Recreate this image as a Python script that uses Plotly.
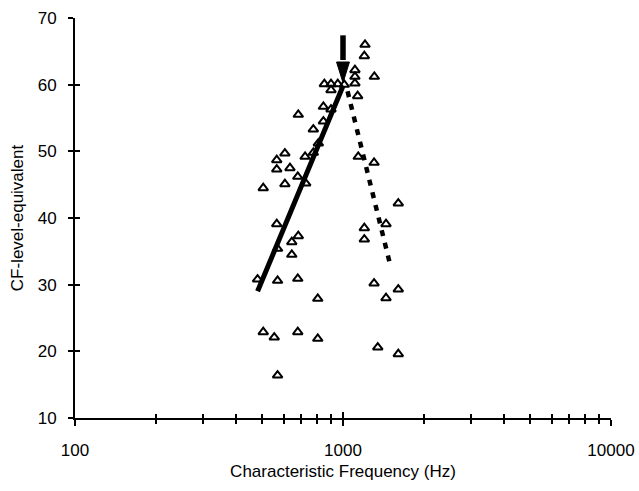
import plotly.graph_objects as go

# Characteristic frequency (Hz) and CF-level-equivalent of each unit
UNIT_CF = [
    480, 570, 678, 805, 504, 554, 678, 805, 570, 570,
    644, 644, 681, 566, 504, 607, 726, 678, 566, 634,
    566, 607, 722, 775, 809, 775, 845, 681, 845, 902,
    852, 902, 902, 956, 1011,
    1208, 1201, 1108, 1108, 1108, 1134, 1309, 1140, 1306, 1608,
    1201, 1201, 1447, 1306, 1608, 1447, 1348, 1608,
]
UNIT_LEVEL = [
    30.8, 30.6, 30.9, 27.9, 22.9, 22.1, 22.9, 21.9, 16.4, 35.4,
    34.5, 36.4, 37.3, 39.1, 44.5, 45.1, 45.2, 46.2, 47.3, 47.5,
    48.7, 49.7, 49.2, 49.8, 51.2, 53.3, 54.5, 55.5, 56.7, 56.3,
    60.1, 59.2, 60.1, 60.1, 60.0,
    66.0, 64.3, 62.2, 61.2, 60.2, 58.3, 61.2, 49.2, 48.3, 42.2,
    38.5, 36.8, 39.1, 30.2, 29.3, 28.0, 20.6, 19.6,
]

# Regression lines below and above the 1000-Hz peak
RISE_FIT_CF = [480, 1000]
RISE_FIT_LEVEL = [29.0, 59.8]
FALL_FIT_CF = [1040, 1510]
FALL_FIT_LEVEL = [59.0, 32.5]

# Arrow marking the best frequency
ARROW_CF = 1000
ARROW_TOP = 67.4
ARROW_HEAD_BASE = 63.4
ARROW_TIP = 60.3
ARROW_HEAD_HALF = 1.057  # multiplicative half-width of the head on the log axis

X_MAJOR = [100, 1000, 10000]
X_MINOR = [200, 300, 400, 500, 600, 700, 800, 900,
           2000, 3000, 4000, 5000, 6000, 7000, 8000, 9000]
Y_MAJOR = [10, 20, 30, 40, 50, 60, 70]

FONT = "Liberation Sans, Arial, sans-serif"

fig = go.Figure()

fig.add_trace(go.Scatter(
    x=RISE_FIT_CF, y=RISE_FIT_LEVEL, mode="lines",
    line=dict(color="black", width=5), hoverinfo="skip",
))
fig.add_trace(go.Scatter(
    x=FALL_FIT_CF, y=FALL_FIT_LEVEL, mode="lines",
    line=dict(color="black", width=4.5, dash="6px,7px"), hoverinfo="skip",
))
fig.add_trace(go.Scatter(
    x=UNIT_CF, y=UNIT_LEVEL, mode="markers",
    marker=dict(symbol="triangle-up-open", size=8.5, color="black",
                line=dict(width=2, color="black")),
))

# arrow shaft and head
fig.add_trace(go.Scatter(
    x=[ARROW_CF, ARROW_CF], y=[ARROW_TOP, ARROW_HEAD_BASE + 0.3], mode="lines",
    line=dict(color="black", width=5.5), hoverinfo="skip",
))
fig.add_trace(go.Scatter(
    x=[ARROW_CF / ARROW_HEAD_HALF, ARROW_CF * ARROW_HEAD_HALF, ARROW_CF, ARROW_CF / ARROW_HEAD_HALF],
    y=[ARROW_HEAD_BASE, ARROW_HEAD_BASE, ARROW_TIP, ARROW_HEAD_BASE],
    mode="lines", fill="toself", fillcolor="black",
    line=dict(color="black", width=1), hoverinfo="skip",
))

# invisible trace carrying the inner half of the crossing ticks
fig.add_trace(go.Scatter(x=[1000], y=[40], xaxis="x2", yaxis="y2",
                         mode="markers", marker=dict(opacity=0),
                         hoverinfo="skip"))

axis_common = dict(showgrid=False, zeroline=False, tickcolor="black",
                   tickwidth=1.5, automargin=False,
                   tickfont=dict(family=FONT, size=17, color="black"))

fig.update_layout(
    width=639, height=491,
    margin=dict(l=75, r=28, t=18, b=73),
    paper_bgcolor="white", plot_bgcolor="white",
    showlegend=False,
    font=dict(family=FONT, color="black"),
    xaxis=dict(
        type="log", range=[2, 4], tickvals=X_MAJOR,
        ticktext=[str(v) for v in X_MAJOR],
        ticks="outside", ticklen=6,
        showline=True, linewidth=2, linecolor="black",
        minor=dict(tickvals=X_MINOR, ticks="outside", ticklen=4,
                   tickwidth=1.5, tickcolor="black", showgrid=False),
        ticklabelstandoff=10,
        title=dict(text="Characteristic Frequency (Hz)",
                   font=dict(family=FONT, size=17, color="black"), standoff=6),
        **axis_common,
    ),
    yaxis=dict(
        range=[10, 70], tickvals=Y_MAJOR,
        ticks="outside", ticklen=5,
        showline=True, linewidth=2, linecolor="black",
        ticklabelstandoff=8,
        title=dict(text="CF-level-equivalent",
                   font=dict(family=FONT, size=17, color="black"), standoff=10),
        **axis_common,
    ),
    xaxis2=dict(
        type="log", range=[2, 4], overlaying="x", anchor="y", side="bottom",
        tickvals=X_MAJOR, ticks="inside", ticklen=6, showticklabels=False,
        showline=False,
        minor=dict(tickvals=X_MINOR, ticks="inside", ticklen=4,
                   tickwidth=1.5, tickcolor="black", showgrid=False),
        **axis_common,
    ),
    yaxis2=dict(
        range=[10, 70], overlaying="y", anchor="x", side="left",
        tickvals=Y_MAJOR, ticks="inside", ticklen=5, showticklabels=False,
        showline=False,
        **axis_common,
    ),
)

fig.write_html("out.html")
